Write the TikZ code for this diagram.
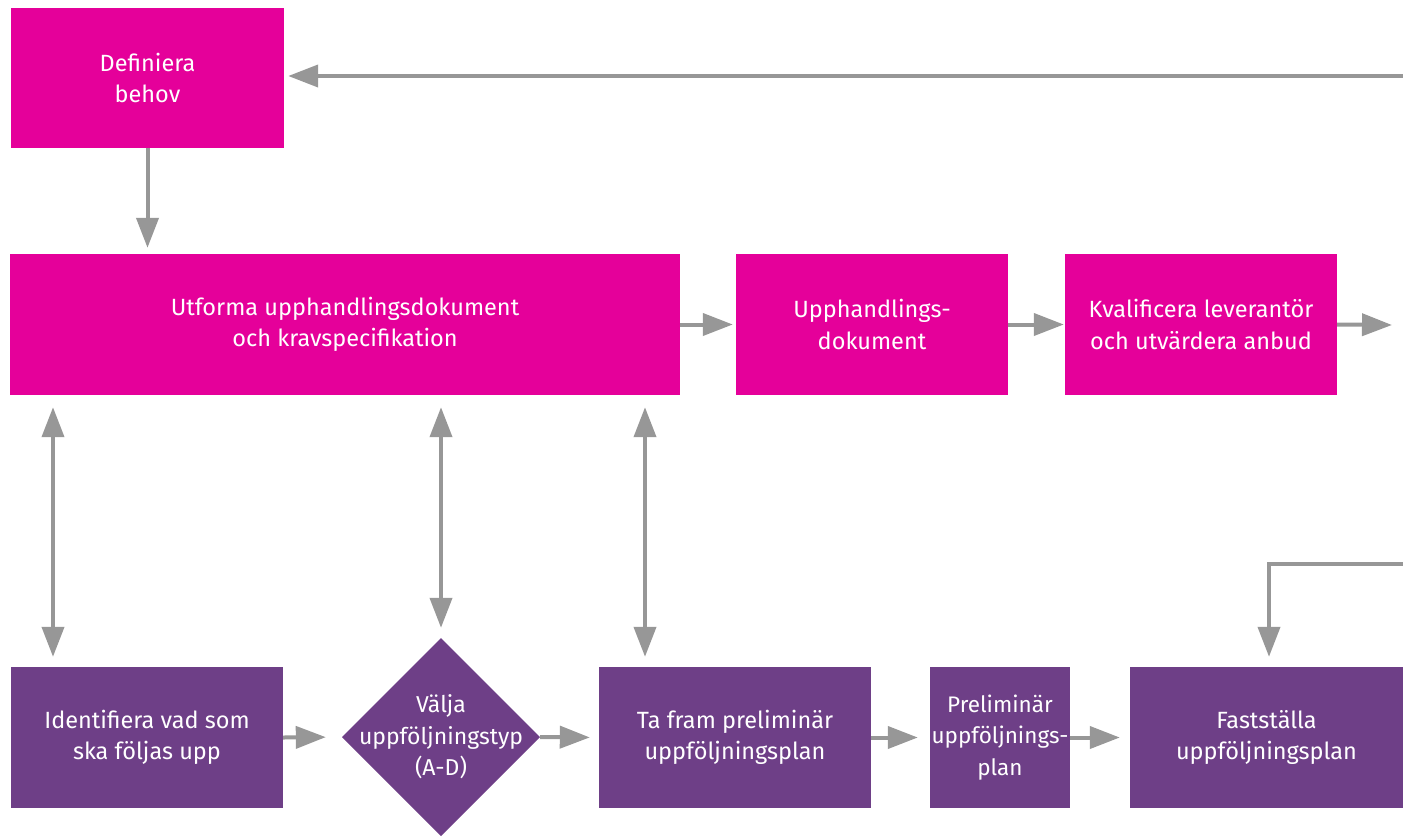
\documentclass[tikz,border=0pt]{standalone}
\usepackage{fontspec}
\setmainfont{Fira Sans}
\usetikzlibrary{arrows.meta,calc}
\definecolor{mag}{HTML}{E5009A}
\definecolor{purp}{HTML}{6E3F87}
\definecolor{arrgrey}{HTML}{979797}
\tikzset{
  box/.style={fill=#1, text=white, inner sep=0pt, align=center, font=\fontsize{23.5}{31.5}\selectfont},
  arr/.style={draw=arrgrey, line width=4pt, -{Triangle[length=30pt,width=22pt]}},
  darr/.style={draw=arrgrey, line width=4pt, {Triangle[length=30pt,width=22pt]}-{Triangle[length=30pt,width=22pt]}},
}
\begin{document}
\begin{tikzpicture}[x=1pt,y=-1pt]
\useasboundingbox (0,0) rectangle (1403,836);
% top row
\node[box=mag, minimum width=273pt, minimum height=140pt] (def) at (147.5,78) {Definiera\\behov};
\node[box=mag, minimum width=670pt, minimum height=141pt] (utf) at (345,324.5) {Utforma upphandlingsdokument\\och kravspecifikation};
\node[box=mag, minimum width=272pt, minimum height=141pt] (upp) at (872,324.5) {Upphandlings-\\dokument};
\node[box=mag, minimum width=272pt, minimum height=141pt] (kva) at (1201,324.5) {Kvalificera leverantör\\och utvärdera anbud};
% bottom row
\node[box=purp, minimum width=272pt, minimum height=141pt] (ide) at (147,737.5) {Identifiera vad som\\ska följas upp};
\fill[purp] (441,638) -- (540,737) -- (441,836) -- (342,737) -- cycle;
\node[box=none, minimum width=198pt, minimum height=198pt, font=\fontsize{23}{31.5}\selectfont] (dia) at (441,737) {Välja\\uppföljningstyp\\(A-D)};
\node[box=purp, minimum width=272pt, minimum height=141pt] (taf) at (735,737.5) {Ta fram preliminär\\uppföljningsplan};
\node[box=purp, minimum width=140pt, minimum height=141pt, font=\fontsize{22.5}{31.5}\selectfont] (pre) at (1000,737.5) {Preliminär\\uppföljnings-\\plan};
\node[box=purp, minimum width=273pt, minimum height=141pt] (fas) at (1266.5,737.5) {Fastställa\\uppföljningsplan};
% free ends
\coordinate (topin) at (1403,76);
\coordinate (kvaout) at (1392,325);
\coordinate (elbin) at (1403,564);
% connectors
\draw[arr, shorten >=4pt] (topin) -- (def.east |- topin);
\draw[arr, shorten >=6pt] (def.south) -- (def.south |- utf.north);
\draw[arr, shorten >=3pt] (utf.east) -- (upp.west);
\draw[arr, shorten >=1pt] (upp.east) -- (kva.west);
\draw[arr] (kva.east) -- (kvaout);
\draw[darr, shorten <=12pt, shorten >=10pt] ([xshift=-94pt]ide.north |- utf.south) -- ([xshift=-94pt]ide.north);
\draw[darr, shorten <=12pt, shorten >=10pt] (dia.north |- utf.south) -- (dia.north);
\draw[darr, shorten <=12pt, shorten >=10pt] ([xshift=-90pt]taf.north |- utf.south) -- ([xshift=-90pt]taf.north);
\draw[arr, shorten >=16pt] (ide.east) -- (dia.west);
\draw[arr, shorten >=9pt] (dia.east) -- (taf.west);
\draw[arr, shorten >=12pt] (taf.east) -- (pre.west);
\draw[arr, shorten >=10pt] (pre.east) -- (fas.west);
\draw[arr, shorten >=10pt] (elbin) -| ([xshift=2.5pt]fas.north);
\end{tikzpicture}
\end{document}
